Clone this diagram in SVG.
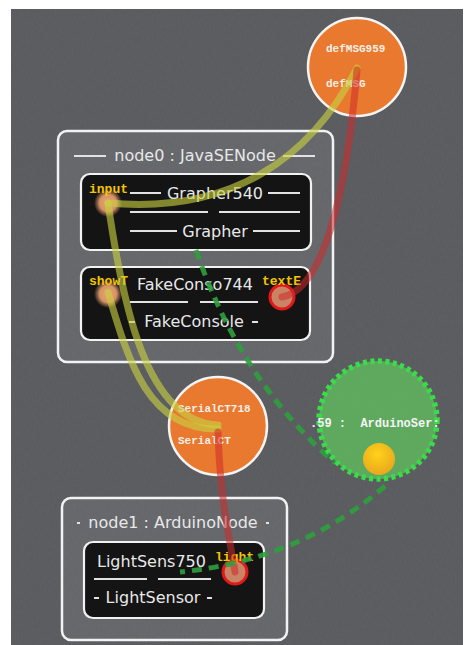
<svg xmlns="http://www.w3.org/2000/svg" width="466" height="645" viewBox="0 0 466 645">
<defs>
<filter id="noise" x="0" y="0" width="100%" height="100%">
<feTurbulence type="fractalNoise" baseFrequency="0.9 0.25" numOctaves="2" seed="3" result="n"/>
<feColorMatrix in="n" type="matrix" values="0 0 0 0 0  0 0 0 0 0  0 0 0 0 0  0 0 0 0.5 0"/>
<feComposite in2="SourceGraphic" operator="in"/>
</filter>
<radialGradient id="glow" cx="50%" cy="50%" r="50%">
<stop offset="0" stop-color="#e7a273"/>
<stop offset="0.6" stop-color="#d99265"/>
<stop offset="1" stop-color="#c98a60" stop-opacity="0"/>
</radialGradient>
<radialGradient id="sun" cx="45%" cy="35%" r="65%">
<stop offset="0" stop-color="#ffd21a"/>
<stop offset="1" stop-color="#e8a81c"/>
</radialGradient>
<style>
.outer{fill:#ffffff;fill-opacity:0.07;stroke:#f2f2f2;stroke-width:2.5}
.inner{fill:#141414;stroke:#f2f2f2;stroke-width:2.2}
.t{font-family:"DejaVu Sans",sans-serif;font-size:16px;fill:#e8e8e8}
.ln{stroke:#e2e2e2;stroke-width:2;fill:none}
.pl{font-family:"Liberation Mono",monospace;font-weight:bold;font-size:13px;fill:#f5c400}
.cl{font-family:"Liberation Mono",monospace;font-weight:bold;font-size:11px;fill:#f6efe6}
.hub{fill:#e8792e;stroke:#f4f4f4;stroke-width:2.5}
.pin{fill:url(#glow)}
.pr{fill:#c98466;stroke:#e01a1a;stroke-width:3}
.yl{fill:none;stroke:#c8d040;stroke-opacity:0.62;stroke-width:7;stroke-linecap:round}
.rd{fill:none;stroke:#d02a2a;stroke-opacity:0.55;stroke-width:7;stroke-linecap:round}
.gd{fill:none;stroke:#2fa03e;stroke-opacity:0.9;stroke-width:5;stroke-dasharray:10 7}
</style>
</defs>
<rect x="0" y="0" width="466" height="645" fill="#ffffff"/>
<rect x="11" y="9" width="452" height="636" fill="#5f6165"/>
<rect x="11" y="9" width="452" height="636" fill="#000" filter="url(#noise)" opacity="0.15"/>

<g id="node0">
<rect class="outer" x="58" y="131" width="275" height="231" rx="9"/>
<line class="ln" x1="74" y1="156" x2="106" y2="156"/>
<line class="ln" x1="283" y1="156" x2="315" y2="156"/>
<text class="t" x="195" y="161" text-anchor="middle">node0 : JavaSENode</text>
</g>

<g id="Grapher540">
<rect class="inner" x="81" y="174" width="230" height="76" rx="9"/>
<line class="ln" x1="130" y1="193" x2="161" y2="193"/>
<line class="ln" x1="268" y1="193" x2="300" y2="193"/>
<text class="t" x="215" y="199" text-anchor="middle">Grapher540</text>
<line class="ln" x1="130" y1="212" x2="208" y2="212"/>
<line class="ln" x1="219" y1="212" x2="300" y2="212"/>
<line class="ln" x1="130" y1="231" x2="177" y2="231"/>
<line class="ln" x1="253" y1="231" x2="300" y2="231"/>
<text class="t" x="215" y="237" text-anchor="middle">Grapher</text>
<circle class="pin" cx="108" cy="203" r="14"/>
<text class="pl" x="89" y="193">input</text>
</g>

<g id="FakeConso744">
<rect class="inner" x="81" y="267" width="229" height="73" rx="9"/>
<text class="t" x="195" y="290" text-anchor="middle">FakeConso744</text>
<line class="ln" x1="130" y1="302" x2="188" y2="302"/>
<line class="ln" x1="200" y1="302" x2="258" y2="302"/>
<line class="ln" x1="129" y1="322" x2="135" y2="322"/>
<line class="ln" x1="252" y1="322" x2="258" y2="322"/>
<text class="t" x="194" y="327" text-anchor="middle">FakeConsole</text>
<circle class="pin" cx="108" cy="294" r="14"/>
<circle class="pr" cx="282" cy="297" r="12"/>
<text class="pl" x="89" y="285">showT</text>
<text class="pl" x="262" y="285">textE</text>
</g>

<g id="node1">
<rect class="outer" x="62" y="498" width="225" height="142" rx="9"/>
<line class="ln" x1="77" y1="523" x2="80" y2="523"/>
<line class="ln" x1="266" y1="523" x2="269" y2="523"/>
<text class="t" x="173" y="528" text-anchor="middle">node1 : ArduinoNode</text>
</g>

<g id="LightSens750">
<rect class="inner" x="84" y="542" width="180" height="76" rx="9"/>
<text class="t" x="97" y="567">LightSens750</text>
<line class="ln" x1="94" y1="579" x2="147" y2="579"/>
<line class="ln" x1="158" y1="579" x2="211" y2="579"/>
<line class="ln" x1="94" y1="598" x2="99" y2="598"/>
<line class="ln" x1="207" y1="598" x2="212" y2="598"/>
<text class="t" x="153" y="603" text-anchor="middle">LightSensor</text>
<circle class="pr" cx="235" cy="572" r="12"/>
<text class="pl" x="215" y="561">light</text>
</g>

<g id="defMSG959">
<circle class="hub" cx="357" cy="67" r="49"/>
<text class="cl" x="326" y="52">defMSG959</text>
<text class="cl" x="326" y="87">defMSG</text>
</g>

<g id="SerialCT718">
<circle class="hub" cx="218" cy="426" r="49"/>
<text class="cl" x="178" y="412">SerialCT718</text>
<text class="cl" x="178" y="444">SerialCT</text>
</g>

<g id="connectors">
<path class="yl" d="M108,203 C230,214 310,160 357,68"/>
<path class="yl" d="M108,203 C122,300 145,422 218,425"/>
<path class="yl" d="M108,292 C128,360 148,430 218,429"/>
<path class="rd" d="M282,297 C322,290 346,200 357,70"/>
<path class="rd" d="M218,432 C220,500 230,540 235,572"/>
<path class="gd" d="M196,250 Q240,380 335,463"/>
<path class="gd" d="M385,486 Q300,560 180,572"/>
</g>

<g id="ArduinoSer">
<circle cx="378" cy="420" r="59" fill="#5fb05f" fill-opacity="0.92" stroke="#38dd48" stroke-width="5.5" stroke-dasharray="4 3.5"/>
<circle cx="379" cy="459" r="16" fill="url(#sun)"/>
<text x="310" y="427" style="font-family:'Liberation Mono',monospace;font-weight:bold;font-size:12px;fill:#f4f4f4;white-space:pre" xml:space="preserve">.59 :  ArduinoSer:</text>
</g>
</svg>
